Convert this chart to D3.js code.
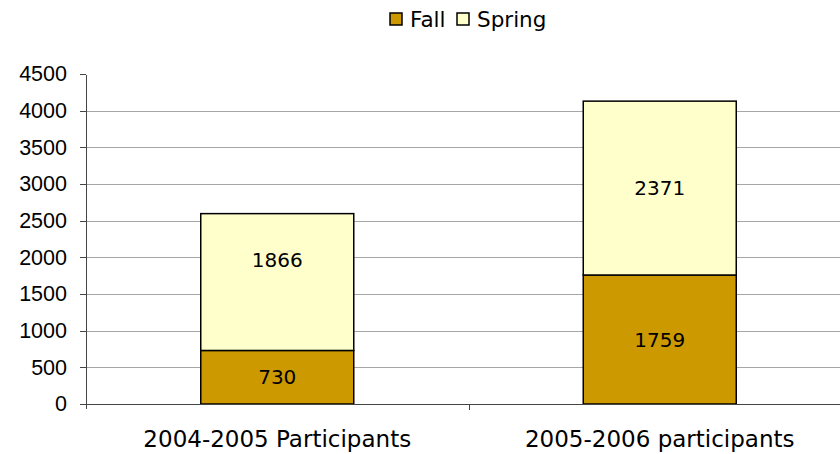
<!DOCTYPE html>
<html lang="en">
<head>
<meta charset="UTF-8">
<title>Participants by term</title>
<style>
  body { margin: 0; background: #fff; }
  svg { display: block; font-family: "DejaVu Sans", Verdana, sans-serif; }
  .grid line { stroke: #a6a6a6; stroke-width: 1; shape-rendering: crispEdges; }
  .axis path, .axis line { stroke: #444; shape-rendering: crispEdges; }
  .axis text { font-size: 21.5px; fill: #000; }
</style>
</head>
<body>
<svg id="chart"></svg>
<script src="https://d3js.org/d3.v7.min.js"></script>
<script>
var categories = ["2004-2005 Participants", "2005-2006 participants"];
var seriesNames = ["Fall", "Spring"];
var fallValues = [730, 1759];
var springValues = [1866, 2371];
var yTicks = [0, 500, 1000, 1500, 2000, 2500, 3000, 3500, 4000, 4500];
var colors = ["#cc9900", "#ffffcc"];

var width = 840, height = 454;
var margin = {top: 74, right: -11, bottom: 50, left: 86};
var innerW = width - margin.left - margin.right,
    innerH = height - margin.top - margin.bottom;

var svg = d3.select("#chart").attr("width", width).attr("height", height);
var g = svg.append("g").attr("transform", "translate(" + margin.left + "," + margin.top + ")");

var x = d3.scaleBand().domain(categories).range([0, innerW]).padding(0);
var y = d3.scaleLinear().domain([0, 4500]).range([innerH, 0]);

// gridlines
g.append("g").attr("class", "grid")
  .selectAll("line").data(yTicks.filter(function(d) { return d > 0 && d < 4500; }))
  .enter().append("line")
  .attr("x1", 0).attr("x2", innerW)
  .attr("y1", function(d) { return Math.round(y(d)) + 0.5; })
  .attr("y2", function(d) { return Math.round(y(d)) + 0.5; });

// stacked data
var rows = categories.map(function(c, i) { return {cat: c, Fall: fallValues[i], Spring: springValues[i]}; });
var stacked = d3.stack().keys(seriesNames)(rows);

var barW = x.bandwidth() * 0.4;

var layers = g.selectAll(".layer").data(stacked).enter().append("g")
  .attr("class", "layer")
  .attr("fill", function(d, i) { return colors[i]; });

layers.selectAll("rect").data(function(d) { return d; })
  .enter().append("rect")
  .attr("x", function(d) { return x(d.data.cat) + (x.bandwidth() - barW) / 2; })
  .attr("y", function(d) { return y(d[1]); })
  .attr("width", barW)
  .attr("height", function(d) { return y(d[0]) - y(d[1]); })
  .attr("stroke", "#000")
  .attr("stroke-width", 1.5);

// the first spring label sits a bit above the middle in the original
function labelNudge(d, key) {
  return (key === "Spring" && d.data.cat === categories[0]) ? -22 : 0;
}

layers.each(function(layer) {
  d3.select(this).selectAll("text").data(layer)
    .enter().append("text")
    .attr("x", function(d) { return x(d.data.cat) + x.bandwidth() / 2; })
    .attr("y", function(d) { return (y(d[0]) + y(d[1])) / 2 + labelNudge(d, layer.key); })
    .attr("dy", "0.36em")
    .attr("text-anchor", "middle")
    .attr("fill", "#000")
    .style("font-size", "20px")
    .text(function(d) { return d[1] - d[0]; });
});

// y axis
g.append("g").attr("class", "axis")
  .call(d3.axisLeft(y).tickValues(yTicks).tickFormat(d3.format("d")).tickSize(6).tickPadding(13))
  .call(function(s) { s.select(".domain").attr("d", "M0.5," + (innerH + 5) + "V0.5"); });

// x axis
var xAxis = g.append("g").attr("class", "axis")
  .attr("transform", "translate(0," + innerH + ")");
xAxis.append("line").attr("x1", 0).attr("x2", innerW).attr("y1", 0.5).attr("y2", 0.5);
xAxis.append("line")
  .attr("x1", Math.round(x.bandwidth()) + 0.5).attr("x2", Math.round(x.bandwidth()) + 0.5)
  .attr("y1", 0).attr("y2", 6);
xAxis.selectAll("text.cat").data(categories).enter().append("text")
  .attr("class", "cat")
  .attr("x", function(d) { return x(d) + x.bandwidth() / 2; })
  .attr("y", 43)
  .attr("text-anchor", "middle")
  .style("font-size", "23px")
  .text(function(d) { return d; });

// legend
var legend = svg.append("g").attr("transform", "translate(390,13)");
var items = legend.selectAll("g").data(seriesNames).enter().append("g")
  .attr("transform", function(d, i) { return "translate(" + (i * 67) + ",0)"; });
items.append("rect")
  .attr("width", 12).attr("height", 12)
  .attr("fill", function(d, i) { return colors[i]; })
  .attr("stroke", "#000").attr("stroke-width", 1.5);
items.append("text")
  .attr("x", 20).attr("y", 14)
  .style("font-size", "21.5px")
  .text(function(d) { return d; });
</script>
</body>
</html>
